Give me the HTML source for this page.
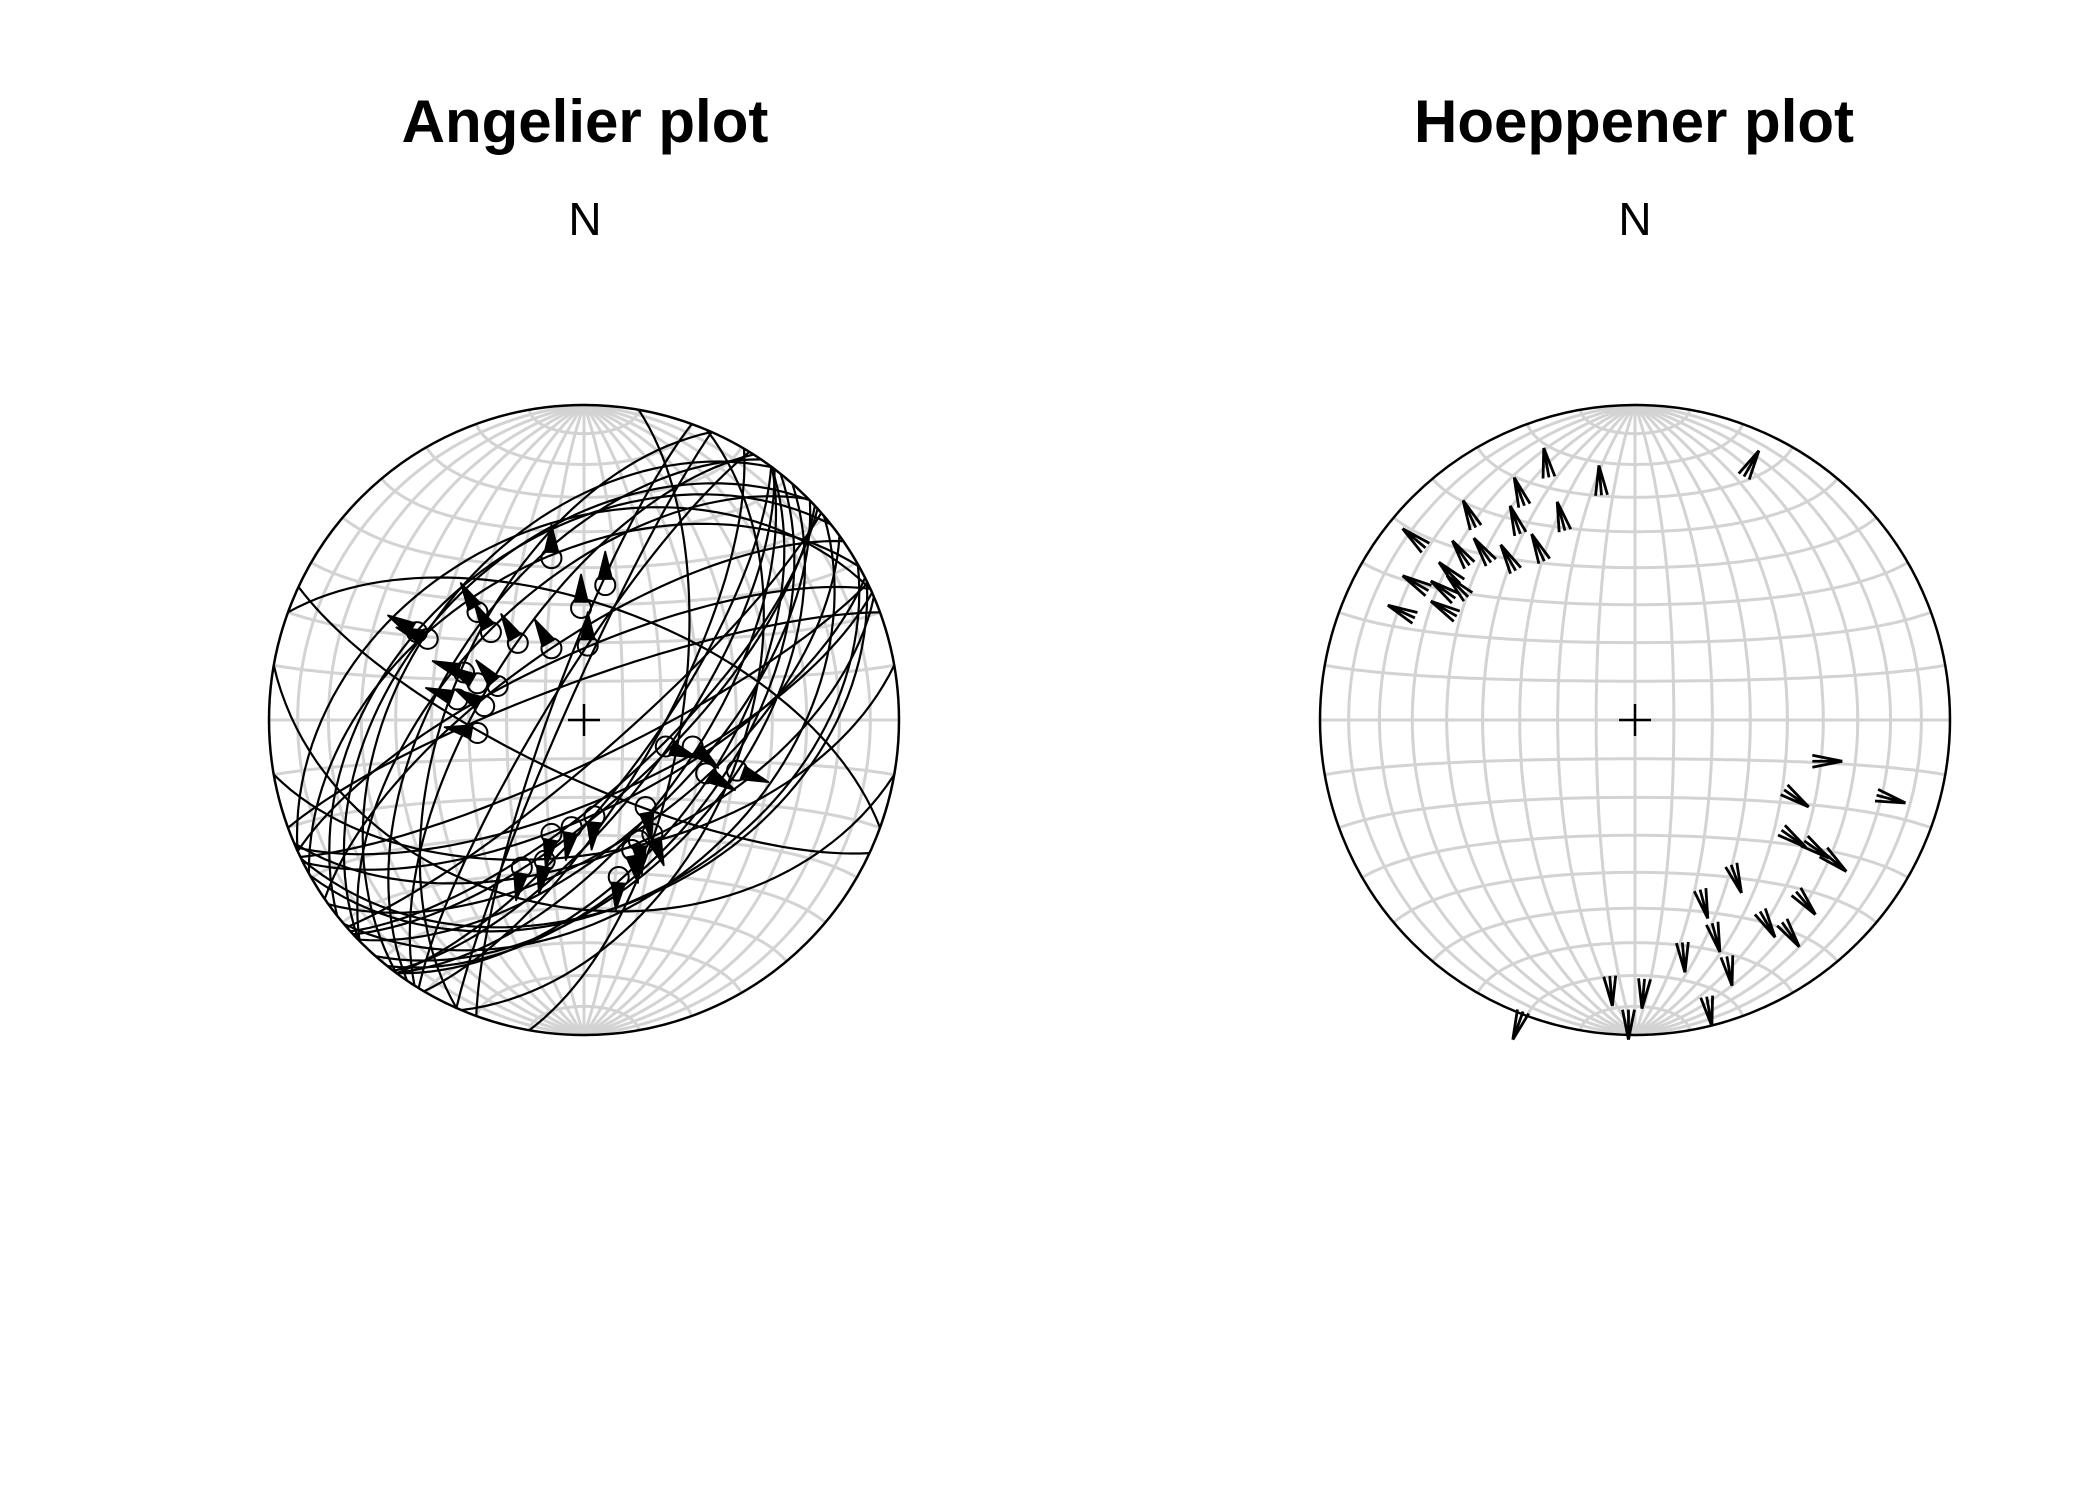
<!DOCTYPE html>
<html><head><meta charset="utf-8">
<style>
html,body{margin:0;padding:0;background:#fff;}
svg{display:block;}
text{font-family:"Liberation Sans",sans-serif;}
</style></head>
<body>
<svg id="s" width="2100" height="1500" viewBox="0 0 2100 1500" xmlns="http://www.w3.org/2000/svg">
<rect width="2100" height="1500" fill="#fff"/>
<text x="585" y="142" font-size="60" font-weight="bold" text-anchor="middle">Angelier plot</text>
<text x="1634" y="142" font-size="60" font-weight="bold" text-anchor="middle">Hoeppener plot</text>
<text x="585" y="235" font-size="46" text-anchor="middle">N</text>
<text x="1635" y="235" font-size="46" text-anchor="middle">N</text>
<g id="g"></g>
</svg>
<script>
(function(){
var NS="http://www.w3.org/2000/svg",g=document.getElementById("g");
var R=315,C1=[584,720],C2=[1635,720];
function el(t,a){var e=document.createElementNS(NS,t);for(var k in a)e.setAttribute(k,a[k]);g.appendChild(e);return e;}
var d2r=Math.PI/180;
function netPt(lam,phi,c){var k=Math.sqrt(2/(1+Math.cos(phi)*Math.cos(lam)));var x=k*Math.cos(phi)*Math.sin(lam),y=k*Math.sin(phi);return [c[0]+x*R/Math.SQRT2,c[1]-y*R/Math.SQRT2];}
function net(c){
 var p;
 for(var L=-80;L<=80;L+=10){p="";for(var P=-90;P<=90;P+=2){var q=netPt(L*d2r,P*d2r,c);p+=(P==-90?"M":"L")+q[0].toFixed(1)+","+q[1].toFixed(1);}el("path",{d:p,fill:"none",stroke:"#d3d3d3","stroke-width":3});}
 for(var P=-80;P<=80;P+=10){p="";for(var L=-90;L<=90;L+=2){var q=netPt(L*d2r,P*d2r,c);p+=(L==-90?"M":"L")+q[0].toFixed(1)+","+q[1].toFixed(1);}el("path",{d:p,fill:"none",stroke:"#d3d3d3","stroke-width":3});}
 el("circle",{cx:c[0],cy:c[1],r:R,fill:"none",stroke:"#000","stroke-width":2.5});
 el("path",{d:"M"+(c[0]-16)+","+c[1]+"h32M"+c[0]+","+(c[1]-16)+"v32",stroke:"#000","stroke-width":2.5});
}
net(C1);net(C2);
function proj(v,c){
 if(v[2]<0)v=[-v[0],-v[1],-v[2]];
 var pl=Math.asin(Math.min(1,v[2])),tr=Math.atan2(v[0],v[1]);
 var r=R*Math.SQRT2*Math.sin((Math.PI/2-pl)/2);
 return [c[0]+r*Math.sin(tr),c[1]-r*Math.cos(tr)];}
var seed=7;function rnd(){seed=(seed*16807)%2147483647;return seed/2147483647;}
var planes=[];
for(var i=0;i<34;i++){var s=20+rnd()*50,d=35+rnd()*50;if(rnd()<0.5)s+=180;planes.push([s,d]);}
planes.push([115,75],[290,60],[100,40],[250,80],[80,55],[10,65]);
planes.forEach(function(pd){var s=pd[0]*d2r,dp=pd[1]*d2r;
 var sv=[Math.sin(s),Math.cos(s),0],dv=[Math.cos(dp)*Math.sin(s+Math.PI/2),Math.cos(dp)*Math.cos(s+Math.PI/2),Math.sin(dp)];
 var p="";for(var t=0;t<=180;t+=3){var a=t*d2r;var v=[Math.cos(a)*sv[0]+Math.sin(a)*dv[0],Math.cos(a)*sv[1]+Math.sin(a)*dv[1],Math.sin(a)*dv[2]];var q=proj(v,C1);p+=(t==0?"M":"L")+q[0].toFixed(1)+","+q[1].toFixed(1);}
 el("path",{d:p,fill:"none",stroke:"#000","stroke-width":2.2});});
var k=1.345;
var am=[[410,415,-90],[450,435,-90],[432,452,-90],[437,480,-90],[355,455,-120],[318,475,-160],[310,470,-150],[365,470,-120],[385,478,-120],[410,482,-120],[345,500,-160],[355,508,-150],[340,520,-160],[360,525,-150],[370,510,-130],[355,545,-170],[495,555,20],[525,575,30],[548,573,20],[515,555,40],[410,620,100],[425,615,100],[442,607,95],[388,645,100],[405,640,100],[480,600,80],[485,620,70],[470,632,80],[460,652,95],[475,625,85]];
am.forEach(function(m){var x=m[0]*k,y=m[1]*k,a=m[2]*d2r;
 el("circle",{cx:x,cy:y,r:10,fill:"none",stroke:"#000","stroke-width":2});
 var tx=x+Math.cos(a)*34,ty=y+Math.sin(a)*34,px=-Math.sin(a),py=Math.cos(a),bx=x+Math.cos(a)*6,by=y+Math.sin(a)*6;
 el("path",{d:"M"+tx+","+ty+"L"+(bx+px*7)+","+(by+py*7)+"L"+(bx-px*7)+","+(by-py*7)+"Z",fill:"#000",stroke:"#000","stroke-width":1.5});});
var ha=[[1150,333,-100],[1191,346,-95],[1310,335,-60],[1128,355,-110],[1090,372,-115],[1125,376,-110],[1160,373,-105],[1045,393,-140],[1082,402,-125],[1098,400,-125],[1141,397,-115],[1118,405,-120],[1072,418,-135],[1045,428,-150],[1066,432,-145],[1078,428,-135],[1034,450,-155],[1066,447,-150],
[1372,566,0],[1419,597,15],[1347,600,35],[1345,630,35],[1375,648,40],[1362,638,35],[1297,664,70],[1352,680,50],[1272,683,75],[1281,708,75],[1322,697,60],[1340,704,55],[1255,723,85],[1290,733,80],[1201,748,85],[1223,750,95],[1213,773,90],[1275,763,80],[1127,773,110]];
ha.forEach(function(m){var x=m[0]*k-3,y=m[1]*k,a=m[2]*d2r;var L=30,px=-Math.sin(a),py=Math.cos(a),bx=x-Math.cos(a)*L,by=y-Math.sin(a)*L;
 var p="M"+x+","+y+"L"+(bx+px*6)+","+(by+py*6)+"M"+x+","+y+"L"+bx+","+by+"M"+x+","+y+"L"+(bx-px*6)+","+(by-py*6);
 el("path",{d:p,stroke:"#000","stroke-width":2.8,fill:"none"});});
})();
</script>
</body></html>
